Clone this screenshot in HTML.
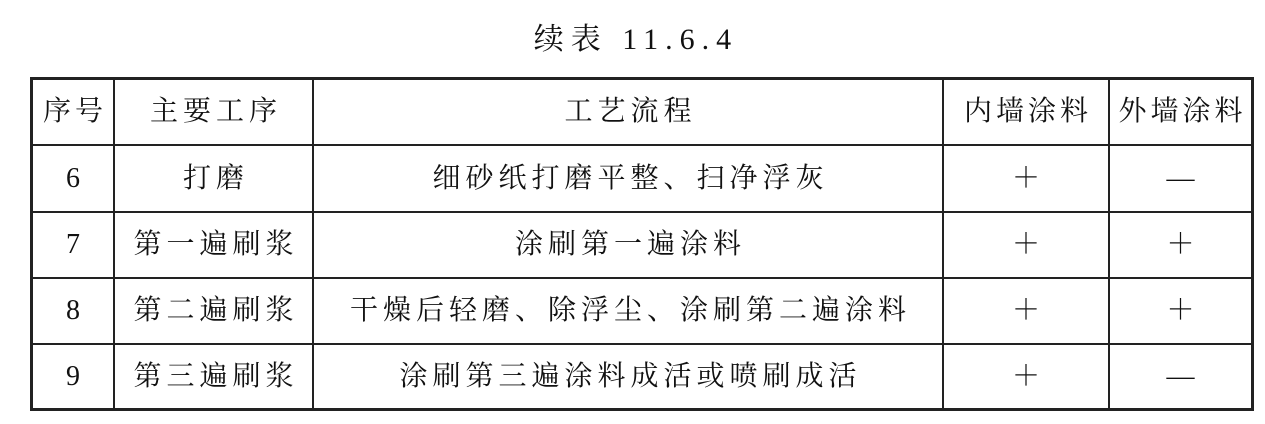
<!DOCTYPE html>
<html><head><meta charset="utf-8"><style>
body{margin:0;width:1265px;height:424px;background:#fff;position:relative;overflow:hidden;font-family:"Liberation Serif","Noto Serif CJK SC",serif;color:#111}
.t{position:absolute;left:0;width:1265px;top:14px;text-align:center;font-size:30px;letter-spacing:7px;text-indent:7px}
.l{position:absolute;background:#222}
.c{position:absolute;text-align:center;font-size:28px;line-height:66px;white-space:nowrap;letter-spacing:5px;text-indent:5px}
.h{letter-spacing:4px;text-indent:4px}
.n{font-family:"Liberation Serif",serif;font-size:28px}
</style></head><body>
<div class="t">续表 11.6.4</div>
<div class="l" style="left:30px;top:77px;width:1224px;height:3px"></div>
<div class="l" style="left:30px;top:408px;width:1224px;height:3px"></div>
<div class="l" style="left:30px;top:77px;width:3px;height:334px"></div>
<div class="l" style="left:1251px;top:77px;width:3px;height:334px"></div>
<div class="l" style="left:113px;top:78px;width:2px;height:332px"></div>
<div class="l" style="left:312px;top:78px;width:2px;height:332px"></div>
<div class="l" style="left:942px;top:78px;width:2px;height:332px"></div>
<div class="l" style="left:1108px;top:78px;width:2px;height:332px"></div>
<div class="l" style="left:31px;top:144px;width:1222px;height:2px"></div>
<div class="l" style="left:31px;top:211px;width:1222px;height:2px"></div>
<div class="l" style="left:31px;top:277px;width:1222px;height:2px"></div>
<div class="l" style="left:31px;top:343px;width:1222px;height:2px"></div>

<div class="c h" style="left:33px;width:80px;top:79px">序号</div>
<div class="c" style="left:115px;width:197px;top:79px">主要工序</div>
<div class="c" style="left:314px;width:628px;top:79px">工艺流程</div>
<div class="c h" style="left:944px;width:164px;top:79px">内墙涂料</div>
<div class="c h" style="left:1110px;width:141px;top:79px">外墙涂料</div>

<div class="c n" style="left:33px;width:80px;top:146px">6</div>
<div class="c" style="left:115px;width:197px;top:146px">打磨</div>
<div class="c" style="left:314px;width:628px;top:146px">细砂纸打磨平整、扫净浮灰</div>
<div class="c" style="left:944px;width:164px;top:146px">＋</div>
<div class="c" style="left:1110px;width:141px;top:146px">—</div>

<div class="c n" style="left:33px;width:80px;top:212px">7</div>
<div class="c" style="left:115px;width:197px;top:212px">第一遍刷浆</div>
<div class="c" style="left:314px;width:628px;top:212px">涂刷第一遍涂料</div>
<div class="c" style="left:944px;width:164px;top:212px">＋</div>
<div class="c" style="left:1110px;width:141px;top:212px">＋</div>

<div class="c n" style="left:33px;width:80px;top:278px">8</div>
<div class="c" style="left:115px;width:197px;top:278px">第二遍刷浆</div>
<div class="c" style="left:314px;width:628px;top:278px">干燥后轻磨、除浮尘、涂刷第二遍涂料</div>
<div class="c" style="left:944px;width:164px;top:278px">＋</div>
<div class="c" style="left:1110px;width:141px;top:278px">＋</div>

<div class="c n" style="left:33px;width:80px;top:344px">9</div>
<div class="c" style="left:115px;width:197px;top:344px">第三遍刷浆</div>
<div class="c" style="left:314px;width:628px;top:344px">涂刷第三遍涂料成活或喷刷成活</div>
<div class="c" style="left:944px;width:164px;top:344px">＋</div>
<div class="c" style="left:1110px;width:141px;top:344px">—</div>
</body></html>
